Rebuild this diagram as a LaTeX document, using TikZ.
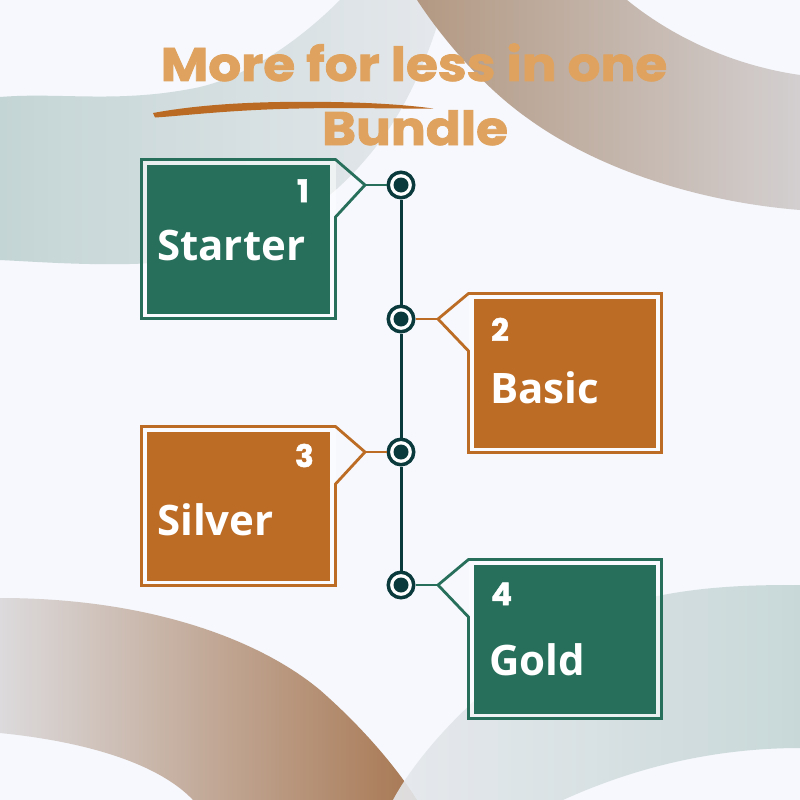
\documentclass[tikz,border=0pt]{standalone}
\usepackage{fontspec}
\setmainfont{Open Sans}
\newfontfamily\titlefont{Poppins}[BoldFeatures={FakeBold=1.6}]
\newfontfamily\boxfont{Open Sans}
\definecolor{bgc}{HTML}{F6F8FD}
\definecolor{boxgreen}{HTML}{276F5B}
\definecolor{boxorange}{HTML}{BC6C25}
\definecolor{navy}{HTML}{0B3A3C}
\definecolor{titlec}{HTML}{DFA35F}
\definecolor{brushc}{HTML}{BB6A24}
\definecolor{tealgray}{HTML}{C4D5D5}
\definecolor{palegray}{HTML}{E5E8EC}
\definecolor{brownA}{HTML}{B39983}
\definecolor{grayB}{HTML}{D3CFD0}
\definecolor{grayC}{HTML}{DCDADC}
\definecolor{brownC}{HTML}{A87853}
\tikzset{
  ringdot/.style={circle, draw=navy, line width=3.5pt, fill=white, minimum size=25.5pt, inner sep=0pt,
    path picture={\fill[navy] (path picture bounding box.center) circle[radius=7.5pt];}},
  lbl/.style={text=white, inner sep=0pt, font=\boxfont\bfseries\fontsize{42}{42}\selectfont},
  num/.style={text=white, inner sep=0pt, font=\titlefont\bfseries\fontsize{31}{31}\selectfont},
  ttl/.style={text=titlec, inner sep=0pt, font=\titlefont\bfseries\fontsize{47}{47}\selectfont},
  gline/.style={draw=boxgreen, line width=2.8pt},
  oline/.style={draw=boxorange, line width=2.8pt},
  gap/.style={fill=white, fill opacity=0.55},
}
\begin{document}
\begin{tikzpicture}[x=1pt,y=-1pt]
\useasboundingbox (0,0) rectangle (800,800);
\fill[bgc] (0,0) rectangle (800,800);
% background bands
\shade[left color=tealgray, right color=palegray]
  (0,97) .. controls (60,92) and (120,104) .. (200,87) .. controls (250,75) and (300,40) .. (340,0)
  -- (445,0) .. controls (425,70) and (400,120) .. (365,160)
  .. controls (310,225) and (230,262) .. (130,264) .. controls (80,265) and (40,262) .. (0,260) -- cycle;
\shade[left color=brownA, right color=grayB]
  (417,0) -- (627,0) .. controls (670,35) and (730,65) .. (800,75) -- (800,210)
  .. controls (700,202) and (600,170) .. (530,120) .. controls (480,85) and (440,35) .. (417,0) -- cycle;
\shade[left color=grayC, right color=brownC]
  (0,598) .. controls (150,598) and (260,640) .. (320,690) .. controls (360,725) and (395,765) .. (417,800)
  -- (193,800) .. controls (160,765) and (90,742) .. (0,733) -- cycle;
\shade[left color=palegray, right color=tealgray, opacity=0.9]
  (393,800) .. controls (425,740) and (520,640) .. (640,600) .. controls (700,585) and (760,585) .. (800,585)
  -- (800,748) .. controls (720,748) and (640,765) .. (563,800) -- cycle;
% title
\node[ttl, anchor=base] (ttl1) at (414,81) {\scalebox{1.1}[1]{More for less in one}};
\fill[brushc] (153,113) .. controls (180,108) and (220,103) .. (280,102) .. controls (350,101) and (400,104) .. (433,108.5)
  .. controls (400,109) and (340,107) .. (280,109) .. controls (220,111) and (180,116) .. (155,117.5) -- cycle;
\node[ttl, anchor=base] (ttl2) at (415,145) {\scalebox{1.1}[1]{Bundle}};
% box 1
\fill[gap] (141.5,159.5) rectangle (335.5,318.5);
\fill[boxgreen] (147,165) rectangle (330,314);
\draw[gline] (141.5,159.5) -- (335.5,159.5) -- (365,185) coordinate (p1) -- (335.5,217) -- (335.5,318.5) -- (141.5,318.5) -- cycle;
% box 2
\fill[gap] (468.5,293.5) rectangle (661.5,452.5);
\fill[boxorange] (474,299) rectangle (656,448);
\draw[oline] (468.5,293.5) -- (661.5,293.5) -- (661.5,452.5) -- (468.5,452.5) -- (468.5,351) -- (438,319) coordinate (p2) -- cycle;
% box 3
\fill[gap] (141.5,426.5) rectangle (335.5,585.5);
\fill[boxorange] (147,432) rectangle (330,581);
\draw[oline] (141.5,426.5) -- (335.5,426.5) -- (365,452) coordinate (p3) -- (335.5,484) -- (335.5,585.5) -- (141.5,585.5) -- cycle;
% box 4
\fill[gap] (468.5,559.5) rectangle (661.5,718.5);
\fill[boxgreen] (474,565) rectangle (656,714);
\draw[gline] (468.5,559.5) -- (661.5,559.5) -- (661.5,718.5) -- (468.5,718.5) -- (468.5,617) -- (438,585) coordinate (p4) -- cycle;
% timeline
\node[ringdot] (c1) at (401,185) {};
\node[ringdot] (c2) at (401,319) {};
\node[ringdot] (c3) at (401,452) {};
\node[ringdot] (c4) at (401,585) {};
\draw[navy, line width=3pt] (c1) -- (c2);
\draw[navy, line width=3pt] (c2) -- (c3);
\draw[navy, line width=3pt] (c3) -- (c4);
\draw[gline] (p1) -- (c1);
\draw[oline] (c2) -- (p2);
\draw[oline] (p3) -- (c3);
\draw[gline] (c4) -- (p4);
% labels
\node[num, anchor=base east] (n1) at (309,202) {1};
\node[lbl, anchor=base west] (s1) at (157,260) {Starter};
\node[num, anchor=base west] (n2) at (491,341) {2};
\node[lbl, anchor=base west] (s2) at (490,403) {Basic};
\node[num, anchor=base east] (n3) at (314,467) {3};
\node[lbl, anchor=base west] (s3) at (157,535) {Silver};
\node[num, anchor=base west] (n4) at (491,605) {4};
\node[lbl, anchor=base west] (s4) at (489,675) {Gold};
\end{tikzpicture}
\end{document}
